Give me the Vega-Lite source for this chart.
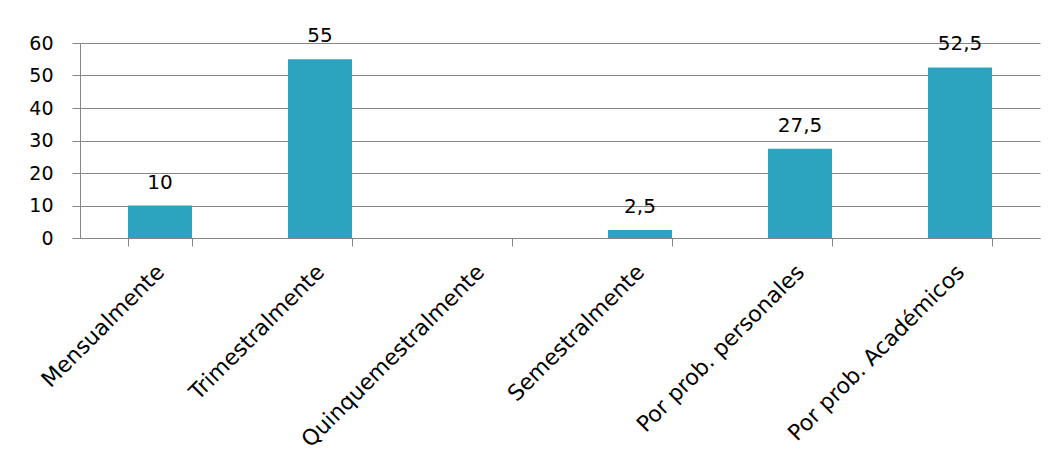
{
  "$schema": "https://vega.github.io/schema/vega-lite/v6.json",
  "width": 960,
  "height": 195,
  "autosize": {"type": "none"},
  "padding": {"left": 80, "top": 43, "right": 14, "bottom": 221},
  "background": "white",
  "data": {
    "values": [
      {"cat": "Mensualmente", "v": 10},
      {"cat": "Trimestralmente", "v": 55},
      {"cat": "Quinquemestralmente", "v": 0},
      {"cat": "Semestralmente", "v": 2.5},
      {"cat": "Por prob. personales", "v": 27.5},
      {"cat": "Por prob. Académicos", "v": 52.5}
    ]
  },
  "encoding": {
    "x": {
      "field": "cat", "type": "nominal", "sort": null,
      "scale": {"paddingInner": 0.6, "paddingOuter": 0.3},
      "axis": {
        "title": null, "labelAngle": -45, "labelAlign": "right", "labelBaseline": "top",
        "labelPadding": 15, "labelOffset": -7, "labelLimit": 0, "tickBand": "extent", "tickSize": 8, "tickColor": "#868686",
        "domainColor": "#868686", "labelFont": "DejaVu Sans", "labelFontSize": 22,
        "labelColor": "#000000", "grid": false
      }
    },
    "y": {
      "field": "v", "type": "quantitative",
      "scale": {"domain": [0, 60]},
      "axis": {
        "title": null, "values": [0, 10, 20, 30, 40, 50, 60], "tickSize": 8,
        "tickColor": "#868686", "domainColor": "#868686", "gridColor": "#868686",
        "grid": true, "labelPadding": 19, "labelFont": "DejaVu Sans", "labelFontSize": 19,
        "labelColor": "#000000"
      }
    }
  },
  "layer": [
    {"mark": {"type": "bar", "color": "#2CA3BF"}},
    {
      "transform": [{"filter": "datum.v > 0"}],
      "mark": {"type": "text", "baseline": "alphabetic", "dy": -17, "font": "DejaVu Sans", "fontSize": 20, "color": "#000000"},
      "encoding": {"text": {"field": "v", "type": "quantitative", "format": "~g"}}
    }
  ],
  "config": {
    "view": {"stroke": null},
    "locale": {"number": {"decimal": ",", "thousands": ".", "grouping": [3], "currency": ["", " €"]}}
  }
}
